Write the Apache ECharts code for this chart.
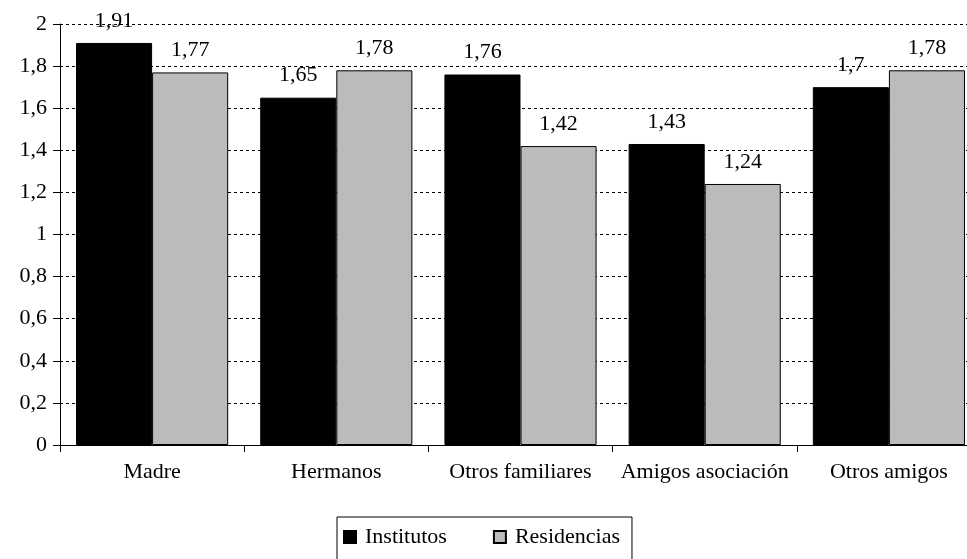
<!DOCTYPE html>
<html>
<head>
<meta charset="utf-8">
<script src="https://cdn.jsdelivr.net/npm/echarts@6/dist/echarts.min.js"></script>
<style>
  html, body { margin: 0; padding: 0; background: #fff; }
  #main { width: 967px; height: 559px; }
</style>
</head>
<body>
<div id="main"></div>
<script>
// categorias y valores
var categorias = ['Madre', 'Hermanos', 'Otros familiares', 'Amigos asociación', 'Otros amigos'];
var institutos = [1.91, 1.65, 1.76, 1.43, 1.7];
var residencias = [1.77, 1.78, 1.42, 1.24, 1.78];
var yTicks = [0, 0.2, 0.4, 0.6, 0.8, 1, 1.2, 1.4, 1.6, 1.8, 2];

var fuente = '"Liberation Serif", "Times New Roman", serif';

function coma(v) {
  return String(v).replace('.', ',');
}

var chart = echarts.init(document.getElementById('main'));

var etiqueta = {
  show: true,
  position: 'top',
  distance: 11,
  color: '#000',
  fontFamily: fuente,
  fontSize: 22,
  formatter: function (p) { return coma(p.value); }
};

var option = {
  animation: false,
  backgroundColor: '#fff',
  textStyle: { fontFamily: fuente },
  grid: { left: 60, width: 921, top: 24, bottom: 114, outerBoundsMode: 'none' },
  legend: {
    left: 337,
    top: 517,
    padding: [9, 12, 12, 6],
    borderColor: '#000',
    borderWidth: 1,
    borderRadius: 0,
    itemWidth: 12,
    itemHeight: 12,
    itemGap: 46,
    icon: 'rect',
    textStyle: { fontFamily: fuente, fontSize: 22, color: '#000', padding: [0, 0, 0, 4] },
    data: ['Institutos', 'Residencias']
  },
  xAxis: {
    type: 'category',
    data: categorias,
    axisLine: { lineStyle: { color: '#000', width: 1 } },
    axisTick: { show: true, length: 7, lineStyle: { color: '#000' } },
    axisLabel: { color: '#000', fontFamily: fuente, fontSize: 22, margin: 16, interval: 0 },
    splitLine: { show: false }
  },
  yAxis: {
    type: 'value',
    min: yTicks[0],
    max: yTicks[yTicks.length - 1],
    interval: 0.2,
    axisLine: { show: true, lineStyle: { color: '#000', width: 1 } },
    axisTick: { show: true, length: 7, lineStyle: { color: '#000' } },
    axisLabel: {
      color: '#000', fontFamily: fuente, fontSize: 22, margin: 13,
      formatter: function (v) { return coma(Math.round(v * 10) / 10); }
    },
    splitLine: { show: true, lineStyle: { color: '#000', type: [3, 3], width: 1 } }
  },
  series: [
    {
      name: 'Institutos',
      type: 'bar',
      data: institutos,
      barWidth: '41.3%',
      barGap: '0%',
      itemStyle: { color: '#000', borderColor: '#000', borderWidth: 1 },
      label: etiqueta
    },
    {
      name: 'Residencias',
      type: 'bar',
      data: residencias,
      barWidth: '41.3%',
      barGap: '0%',
      itemStyle: { color: '#bbbbbb', borderColor: '#000', borderWidth: 1 },
      label: etiqueta
    }
  ]
};

chart.setOption(option);
</script>
</body>
</html>
